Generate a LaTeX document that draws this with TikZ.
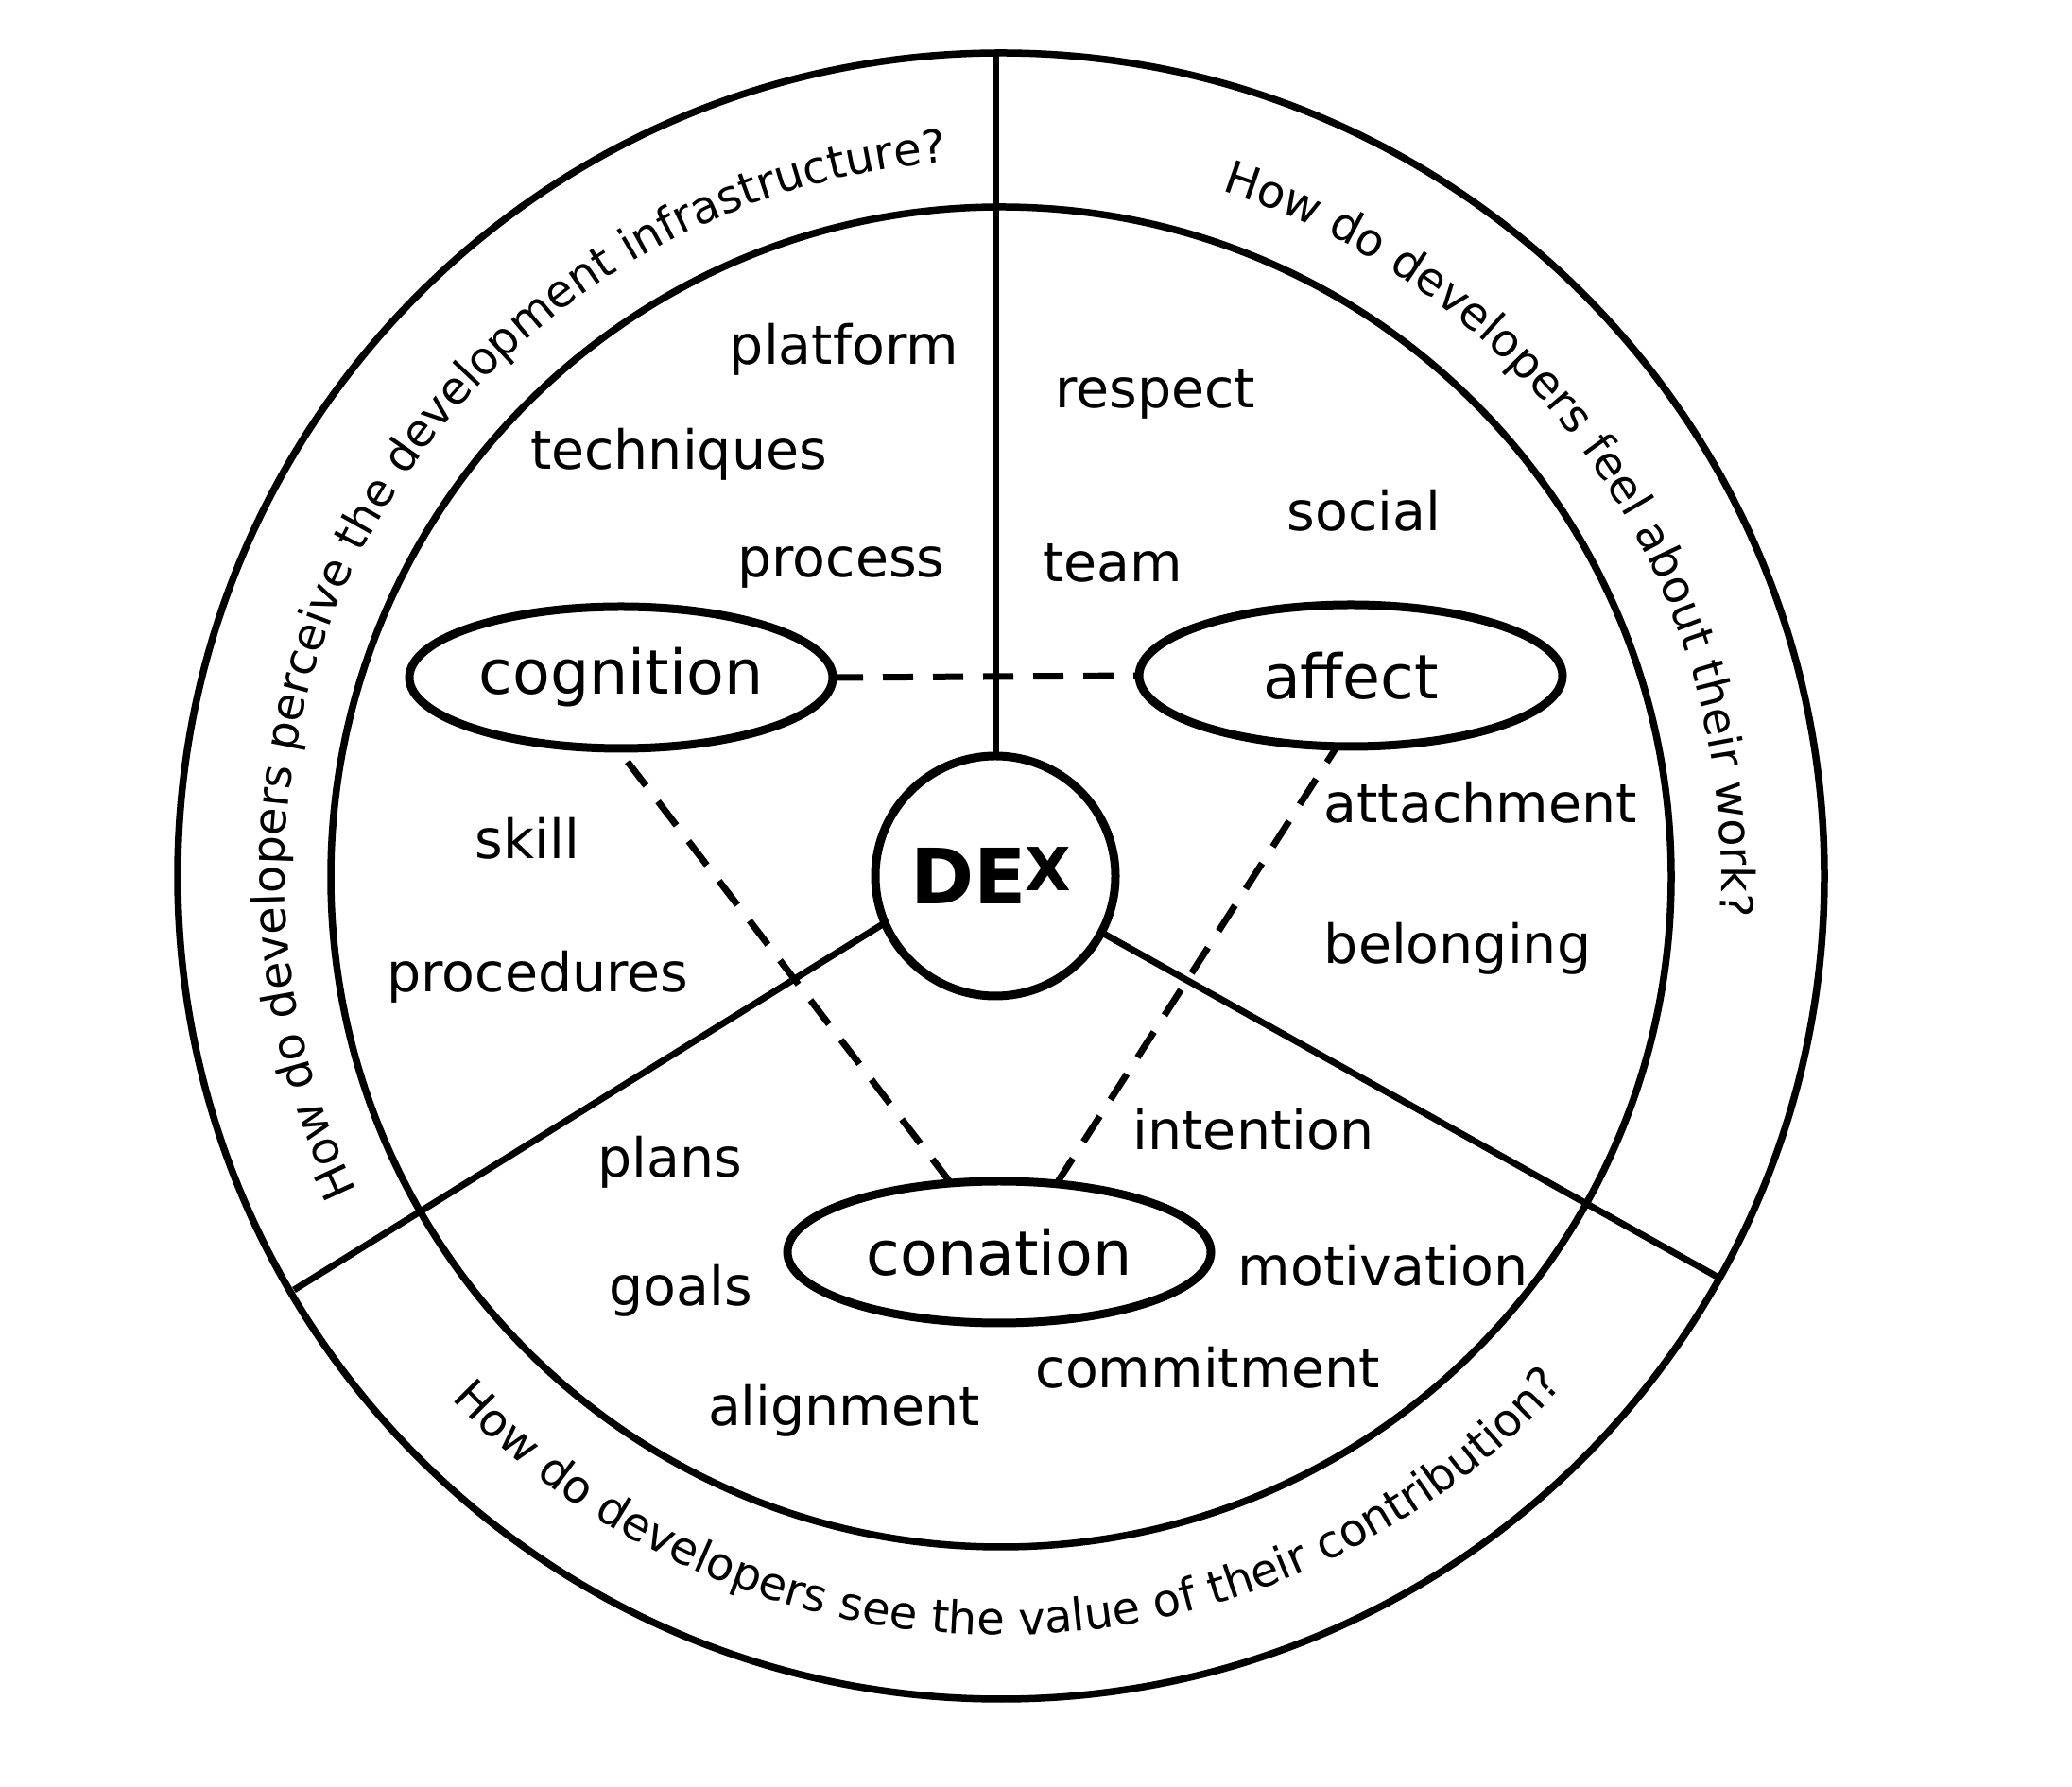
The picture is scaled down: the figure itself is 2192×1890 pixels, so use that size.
\documentclass[tikz,border=0pt]{standalone}
\usepackage{fontspec}
\setmainfont{DejaVu Sans}
\usetikzlibrary{shapes.geometric,decorations.text}
\newcommand\qfont{\fontsize{48}{48}\selectfont}
\begin{document}
\begin{tikzpicture}[x=1pt,y=1pt,
  ring/.style={line width=7.5pt},
  spoke/.style={line width=7pt},
  link/.style={line width=7pt, dash pattern=on 32pt off 21pt},
  facet/.style={ellipse, draw, line width=9pt, minimum width=448pt, minimum height=150pt, inner sep=0pt, outer sep=0pt, font=\fontsize{65}{65}\selectfont},
  term/.style={anchor=base, font=\fontsize{57}{57}\selectfont, inner sep=0pt},
  hub/.style={circle, draw, line width=9pt, minimum size=254pt, inner sep=0pt, outer sep=0pt},
  question/.style={decorate, decoration={text along path, text align=center, text={|\qfont|#1}}}]
\useasboundingbox (0,0) rectangle (2192,1890);
\coordinate (ctr) at (1059,963);
\draw[ring] (ctr) circle[radius=871];
\draw[ring] (1059,962) circle[radius=709];
\node[hub] (dex) at (1053,963) {\fontsize{81}{81}\selectfont\bfseries DE\kern-2pt\raisebox{14pt}{\fontsize{63}{63}\selectfont X}\kern10pt};
\coordinate (top) at (1053,1834);
\coordinate (lft) at (311,525);
\coordinate (rgt) at (1820,537);
\draw[spoke] (top) -- (dex.north);
\draw[spoke] (lft) -- (dex.203.6);
\draw[spoke] (rgt) -- (dex.-28);
\node[facet] (cog) at (657,1173) {cognition};
\node[facet] (aff) at (1429,1175) {affect};
\node[facet] (con) at (1057,565) {conation};
\draw[link] (cog.east) -- (aff.west);
\draw[link] (con.125.5) -- (cog.-93);
\draw[link] (con.50.3) -- (aff.-101);
\node[term] (t1) at (893,1504) {platform};
\node[term] (t2) at (718,1393) {techniques};
\node[term] (t3) at (890,1279) {process};
\node[term] (t4) at (1222,1458) {respect};
\node[term] (t5) at (1443,1328) {social};
\node[term] (t6) at (1177,1274) {team};
\node[term] (t7) at (558,981) {skill};
\node[term] (t8) at (569,840) {procedures};
\node[term] (t9) at (1566,1019) {attachment};
\node[term] (t10) at (1542,870) {belonging};
\node[term] (t11) at (709,644) {plans};
\node[term] (t12) at (720,508) {goals};
\node[term] (t13) at (893,381) {alignment};
\node[term] (t14) at (1326,673) {intention};
\node[term] (t15) at (1463,529) {motivation};
\node[term] (t16) at (1278,421) {commitment};
\path[question={How do developers perceive the development infrastructure?}] ([shift={(230.2:758)}]ctr) arc[start angle=230.2, end angle=70.2, radius=758];
\path[question={How do developers feel about their work?}] ([shift={(94.5:762)}]ctr) arc[start angle=94.5, end angle=-25.5, radius=762];
\path[question={How do developers see the value of their contribution?}] ([shift={(200.7:803)}]ctr) arc[start angle=200.7, end angle=340.7, radius=803];
\end{tikzpicture}
\end{document}
